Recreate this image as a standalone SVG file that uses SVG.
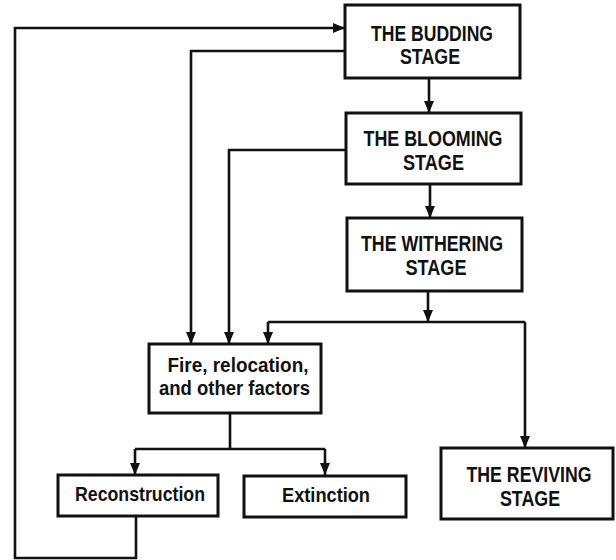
<svg xmlns="http://www.w3.org/2000/svg" width="616" height="560" viewBox="0 0 616 560">
<style>
.box{fill:#fff;stroke:#111;stroke-width:3}
.t{font-family:"Liberation Sans Narrow","Liberation Sans",Arial,sans-serif;font-weight:bold;font-size:22px;fill:#111;text-anchor:middle}
.s{font-size:21px}
.c{fill:none;stroke:#111;stroke-width:2.6}
</style>
<defs>
<marker id="ah" viewBox="0 0 12 10" refX="12" refY="5" markerWidth="12" markerHeight="10" markerUnits="userSpaceOnUse" orient="auto">
<path d="M0,0 L12,5 L0,10 z" fill="#111"/>
</marker>
</defs>
<g id="connectors">
<path class="c" d="M429 78 V113" marker-end="url(#ah)"/>
<path class="c" d="M430 184 V218" marker-end="url(#ah)"/>
<path class="c" d="M428 291 V322" marker-end="url(#ah)"/>
<path class="c" d="M268 322 H525"/>
<path class="c" d="M268 322 V344" marker-end="url(#ah)"/>
<path class="c" d="M525 322 V448" marker-end="url(#ah)"/>
<path class="c" d="M345 51 H191 V344" marker-end="url(#ah)"/>
<path class="c" d="M346 150 H229 V344" marker-end="url(#ah)"/>
<path class="c" d="M230 413 V449"/>
<path class="c" d="M135 449 H325"/>
<path class="c" d="M135 449 V475" marker-end="url(#ah)"/>
<path class="c" d="M325 449 V475" marker-end="url(#ah)"/>
<path class="c" d="M136 516 V558 H15 V28 H345" marker-end="url(#ah)"/>
</g>
<g id="budding">
<rect class="box" x="345" y="5" width="175" height="73"/>
<text class="t" x="432" y="40.5" textLength="122" lengthAdjust="spacingAndGlyphs">THE BUDDING</text>
<text class="t" x="430" y="64" textLength="60" lengthAdjust="spacingAndGlyphs">STAGE</text>
</g>
<g id="blooming">
<rect class="box" x="346" y="113" width="175" height="71"/>
<text class="t" x="433" y="145.5" textLength="139" lengthAdjust="spacingAndGlyphs">THE BLOOMING</text>
<text class="t" x="433.5" y="170" textLength="61" lengthAdjust="spacingAndGlyphs">STAGE</text>
</g>
<g id="withering">
<rect class="box" x="347" y="218" width="175" height="73"/>
<text class="t" x="432" y="250.5" textLength="142" lengthAdjust="spacingAndGlyphs">THE WITHERING</text>
<text class="t" x="436" y="275" textLength="61" lengthAdjust="spacingAndGlyphs">STAGE</text>
</g>
<g id="factors">
<rect class="box" x="149" y="344" width="172" height="69"/>
<text class="t s" x="238" y="372" textLength="141" lengthAdjust="spacingAndGlyphs">Fire, relocation,</text>
<text class="t s" x="234.5" y="395" textLength="151" lengthAdjust="spacingAndGlyphs">and other factors</text>
</g>
<g id="reconstruction">
<rect class="box" x="58" y="475" width="160" height="41"/>
<text class="t s" x="140" y="500.5" textLength="130" lengthAdjust="spacingAndGlyphs">Reconstruction</text>
</g>
<g id="extinction">
<rect class="box" x="244" y="476" width="162" height="41"/>
<text class="t s" x="326" y="502" textLength="88" lengthAdjust="spacingAndGlyphs">Extinction</text>
</g>
<g id="reviving">
<rect class="box" x="441" y="448" width="172" height="71"/>
<text class="t" x="529" y="481.5" textLength="125" lengthAdjust="spacingAndGlyphs">THE REVIVING</text>
<text class="t" x="530" y="506" textLength="60" lengthAdjust="spacingAndGlyphs">STAGE</text>
</g>
</svg>
